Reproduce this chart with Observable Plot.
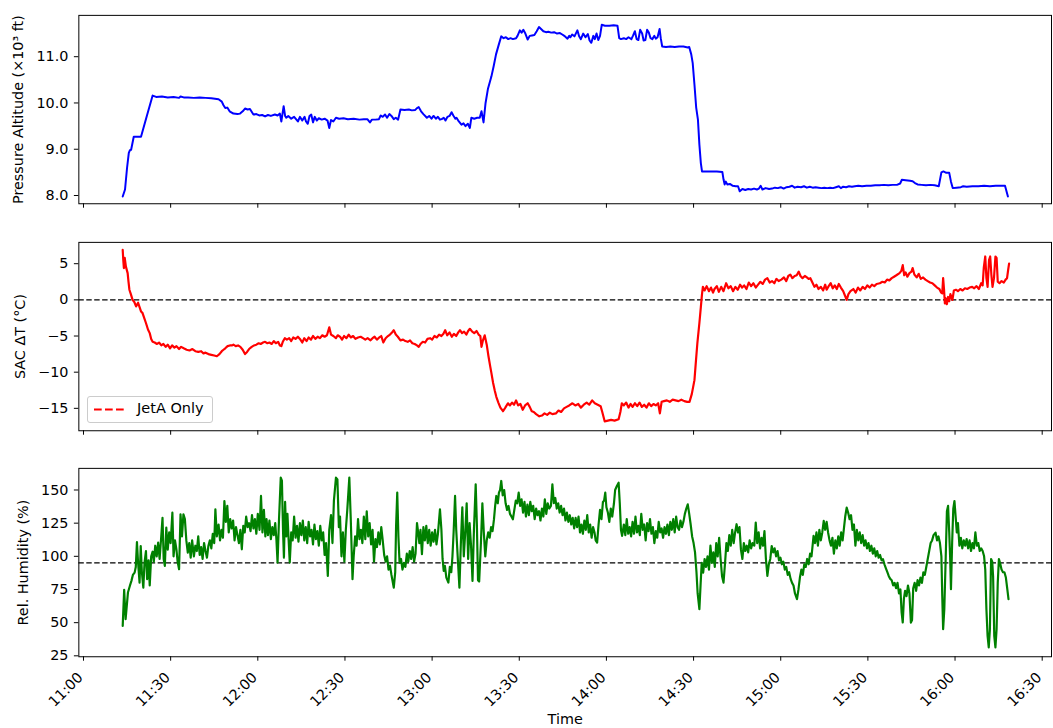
<!DOCTYPE html>
<html>
<head>
<meta charset="utf-8">
<script src="https://cdn.jsdelivr.net/npm/d3@7"></script>
<script src="https://cdn.jsdelivr.net/npm/@observablehq/plot@0.6"></script>
<style>
  html, body { margin: 0; padding: 0; background: #fff; overflow: hidden; width: 1053px; height: 728px; }
  #wrap { position: relative; width: 1053px; height: 728px; overflow: hidden; font-family: "DejaVu Sans", sans-serif; }
  .panel { position: absolute; left: 0; }
  #legend { position: absolute; left: 87px; top: 396px; width: 126px; height: 27px; box-sizing: border-box;
            border: 1px solid #cccccc; border-radius: 3px; background: rgba(255,255,255,0.8);
            font-family: "DejaVu Sans", sans-serif; font-size: 14.5px; color: #000; }
  #legend svg { position: absolute; left: 0; top: 0; }
  #legend span { position: absolute; left: 49px; top: 3px; white-space: nowrap; }
</style>
</head>
<body>
<div id="wrap"></div>
<script>
// ---------------- data (minutes after 11:00, value) ----------------
const xTickLabels = ["11:00","11:30","12:00","12:30","13:00","13:30","14:00","14:30","15:00","15:30","16:00","16:30"];
const altTicks = [8, 9, 10, 11];
const dtTicks = [-15, -10, -5, 0, 5];
const rhTicks = [25, 50, 75, 100, 125, 150];
const dtReference = [0];
const rhReference = [95];

const altitudeSeries = [[13.5,7.98],[14.3,8.13],[15.0,8.6],[15.6,8.92],[16.0,8.98],[16.4,8.99],[17.3,9.27],[19.8,9.27],[21.8,9.72],[23.8,10.16],[25.0,10.13],[27.0,10.14],[29.0,10.12],[31.0,10.13],[32.9,10.11],[33.4,10.14],[34.5,10.12],[36.0,10.12],[38.0,10.11],[40.0,10.12],[42.0,10.11],[44.0,10.10],[46.5,10.08],[47.6,10.03],[48.2,9.95],[48.8,9.89],[49.5,9.9],[50.3,9.82],[51.6,9.77],[53.0,9.76],[53.9,9.77],[54.8,9.82],[55.6,9.88],[56.5,9.86],[57.3,9.87],[58.0,9.80],[58.5,9.75],[59.5,9.76],[60.5,9.73],[61.5,9.74],[62.5,9.71],[63.5,9.74],[64.5,9.72],[65.9,9.75],[66.8,9.73],[67.6,9.77],[68.1,9.60],[68.9,9.93],[69.4,9.72],[69.8,9.68],[70.5,9.72],[71.5,9.66],[72.5,9.70],[73.8,9.60],[74.5,9.70],[75.3,9.62],[76.1,9.70],[76.6,9.60],[77.2,9.55],[77.8,9.72],[78.4,9.75],[79.0,9.58],[79.6,9.70],[80.3,9.62],[81.0,9.67],[82.0,9.64],[83.0,9.66],[84.0,9.62],[84.6,9.46],[85.2,9.63],[86.0,9.6],[86.9,9.68],[88.0,9.66],[89.5,9.67],[91.0,9.65],[93.0,9.66],[95.0,9.64],[96.5,9.65],[97.7,9.65],[98.6,9.58],[99.3,9.64],[100.5,9.64],[101.7,9.65],[102.3,9.73],[103.0,9.70],[103.8,9.75],[104.5,9.68],[105.3,9.76],[106.0,9.72],[106.8,9.65],[107.5,9.68],[108.3,9.64],[109.1,9.86],[110.5,9.85],[112.0,9.86],[113.0,9.84],[114.2,9.85],[114.8,9.89],[115.4,9.91],[116.2,9.82],[117.0,9.76],[118.2,9.68],[119.0,9.72],[119.8,9.66],[120.5,9.72],[121.3,9.66],[122.0,9.70],[122.7,9.64],[123.3,9.65],[124.0,9.68],[124.6,9.62],[125.3,9.70],[126.0,9.72],[126.7,9.80],[127.3,9.73],[128.0,9.66],[128.4,9.68],[129.2,9.60],[130.1,9.53],[130.8,9.56],[131.5,9.50],[132.3,9.55],[133.0,9.46],[133.5,9.68],[134.5,9.66],[135.5,9.68],[136.4,9.68],[137.0,9.82],[137.7,9.58],[138.4,10.0],[139.2,10.3],[140.4,10.57],[141.2,10.8],[142.0,11.05],[142.9,11.25],[143.8,11.44],[144.6,11.40],[145.4,11.42],[146.2,11.38],[147.0,11.40],[147.8,11.38],[148.9,11.40],[149.4,11.45],[150.2,11.57],[150.8,11.52],[151.4,11.58],[152.1,11.50],[152.9,11.37],[153.6,11.45],[154.4,11.46],[155.2,11.47],[156.0,11.55],[156.8,11.64],[157.5,11.60],[158.3,11.55],[159.2,11.53],[160.0,11.54],[161.0,11.52],[162.0,11.53],[163.0,11.50],[164.0,11.51],[164.8,11.48],[165.5,11.45],[166.6,11.39],[167.2,11.45],[167.6,11.42],[168.2,11.48],[169.0,11.44],[170.0,11.57],[170.6,11.44],[171.2,11.38],[172.0,11.50],[172.8,11.42],[173.6,11.49],[174.2,11.35],[174.8,11.30],[175.5,11.45],[176.0,11.38],[176.6,11.50],[177.2,11.36],[177.8,11.45],[178.4,11.69],[179.5,11.67],[181.0,11.67],[182.5,11.68],[183.8,11.67],[184.4,11.40],[185.0,11.38],[186.0,11.40],[186.8,11.38],[187.6,11.42],[188.6,11.38],[189.2,11.46],[189.8,11.55],[190.4,11.38],[191.0,11.36],[191.6,11.58],[192.3,11.50],[192.8,11.35],[193.4,11.36],[194.0,11.58],[194.6,11.52],[195.2,11.40],[195.8,11.38],[196.5,11.45],[197.0,11.39],[197.6,11.42],[198.3,11.60],[198.7,11.40],[199.2,11.22],[200.5,11.21],[202.0,11.22],[203.5,11.21],[205.0,11.22],[206.5,11.22],[208.0,11.20],[208.5,11.21],[209.2,11.05],[209.7,10.86],[210.3,10.4],[210.9,9.9],[211.5,9.64],[212.0,9.1],[212.5,8.7],[212.9,8.52],[214.5,8.52],[216.5,8.52],[218.0,8.52],[219.9,8.51],[220.3,8.35],[220.7,8.24],[221.1,8.30],[221.6,8.24],[222.5,8.25],[223.5,8.21],[224.5,8.20],[225.3,8.20],[225.9,8.09],[226.8,8.14],[227.8,8.12],[228.8,8.14],[229.8,8.13],[230.8,8.15],[231.8,8.13],[232.5,8.15],[233.1,8.21],[233.7,8.13],[234.8,8.16],[236.0,8.14],[237.0,8.15],[238.0,8.17],[239.0,8.16],[240.0,8.18],[241.0,8.15],[242.0,8.18],[243.0,8.19],[243.9,8.21],[244.8,8.17],[245.8,8.19],[247.0,8.18],[248.0,8.2],[249.0,8.17],[250.0,8.19],[251.0,8.17],[252.0,8.18],[253.0,8.17],[254.0,8.16],[255.0,8.17],[256.0,8.16],[257.0,8.17],[258.0,8.16],[259.0,8.18],[260.0,8.20],[260.7,8.16],[261.5,8.19],[262.5,8.18],[263.5,8.20],[264.5,8.19],[265.5,8.20],[266.7,8.21],[268.0,8.20],[269.5,8.21],[271.0,8.21],[272.5,8.22],[274.0,8.22],[275.5,8.23],[277.0,8.22],[278.5,8.23],[280.0,8.23],[281.1,8.26],[281.7,8.34],[283.0,8.33],[284.5,8.32],[285.4,8.31],[286.2,8.27],[287.1,8.24],[288.5,8.23],[290.0,8.22],[291.5,8.23],[293.0,8.22],[294.4,8.20],[295.3,8.50],[296.0,8.52],[297.0,8.49],[298.0,8.49],[298.6,8.30],[299.2,8.16],[300.5,8.17],[302.0,8.18],[302.8,8.20],[304.0,8.19],[306.0,8.20],[308.0,8.20],[310.0,8.21],[312.0,8.20],[314.0,8.21],[316.0,8.21],[317.2,8.21],[318.2,7.98]];

const sacDeltaTSeries = [[13.5,6.9],[13.7,5.5],[13.9,4.4],[14.2,5.8],[14.6,4.6],[15.2,3.7],[15.5,2.5],[15.8,1.4],[16.3,0.8],[16.9,0.0],[17.5,-0.3],[18.1,-0.9],[18.5,-0.6],[18.8,-0.4],[19.3,-1.0],[19.8,-1.6],[20.3,-1.8],[20.8,-2.4],[21.5,-3.2],[22.2,-4.1],[22.8,-4.6],[23.3,-5.4],[23.8,-5.8],[24.5,-5.9],[25.3,-6.1],[26.0,-5.9],[26.8,-6.3],[27.5,-6.1],[28.3,-6.5],[29.0,-6.2],[29.8,-6.7],[30.5,-6.3],[31.3,-6.6],[32.0,-6.4],[32.9,-6.8],[33.6,-6.5],[34.5,-6.7],[35.5,-6.9],[36.5,-7.0],[37.5,-6.8],[38.5,-7.1],[39.5,-7.2],[40.5,-7.1],[41.3,-7.4],[42.0,-7.3],[43.0,-7.5],[44.0,-7.6],[45.0,-7.7],[45.9,-7.8],[46.8,-7.5],[47.6,-7.1],[48.2,-6.9],[48.8,-6.7],[49.6,-6.4],[50.4,-6.3],[51.2,-6.3],[51.6,-6.2],[52.4,-6.4],[53.2,-6.3],[54.0,-6.5],[54.8,-6.9],[55.6,-7.5],[56.3,-7.2],[57.0,-6.8],[57.9,-6.5],[58.7,-6.3],[59.5,-6.2],[60.3,-6.0],[61.0,-6.1],[61.8,-5.9],[62.5,-5.8],[63.3,-6.0],[64.0,-5.9],[64.8,-6.1],[65.5,-5.7],[66.2,-6.0],[67.0,-5.8],[67.6,-6.3],[68.1,-6.4],[68.6,-5.8],[69.3,-5.3],[70.0,-5.5],[70.8,-5.3],[71.5,-5.7],[72.2,-5.2],[73.0,-5.4],[73.8,-5.1],[74.5,-5.4],[75.3,-5.9],[76.0,-5.3],[76.8,-5.7],[77.5,-5.2],[78.3,-5.5],[79.0,-5.0],[79.8,-5.4],[80.6,-5.1],[81.4,-5.3],[82.2,-4.9],[83.0,-5.1],[83.8,-4.9],[84.6,-3.8],[85.2,-4.8],[86.0,-5.0],[86.9,-5.3],[87.5,-4.9],[88.3,-5.1],[89.0,-5.5],[89.7,-5.0],[90.5,-5.3],[91.3,-4.8],[92.0,-5.2],[92.8,-5.0],[93.6,-5.4],[94.5,-5.2],[95.4,-5.1],[96.2,-5.3],[97.0,-5.5],[97.8,-5.3],[98.8,-5.6],[99.5,-5.3],[100.2,-5.1],[101.0,-5.5],[101.8,-5.2],[102.5,-5.0],[103.2,-5.9],[104.0,-5.3],[104.8,-5.0],[105.5,-4.8],[106.2,-4.5],[106.8,-4.2],[107.5,-4.8],[108.2,-5.1],[109.1,-5.6],[110.0,-5.5],[110.8,-5.7],[111.6,-5.8],[112.4,-5.6],[113.2,-6.0],[114.0,-6.1],[114.8,-6.3],[115.4,-6.5],[116.0,-6.1],[116.8,-5.8],[117.6,-5.9],[118.4,-5.4],[119.3,-5.3],[120.0,-5.5],[120.8,-5.0],[121.6,-5.2],[122.4,-4.8],[123.2,-5.0],[123.9,-4.7],[124.5,-4.2],[125.2,-4.9],[126.0,-4.5],[126.8,-5.1],[127.5,-4.7],[128.3,-5.0],[129.0,-4.5],[129.6,-4.2],[130.3,-4.6],[131.0,-4.4],[131.8,-4.8],[132.4,-4.3],[133.0,-4.0],[133.8,-4.4],[134.5,-4.6],[135.3,-4.3],[136.0,-4.8],[136.6,-5.0],[137.0,-6.5],[137.5,-5.6],[138.1,-4.9],[138.8,-6.2],[139.4,-7.8],[140.0,-9.2],[140.4,-10.1],[141.0,-11.5],[141.6,-12.6],[142.1,-13.4],[142.8,-14.2],[143.5,-14.9],[144.4,-15.4],[145.2,-14.9],[146.1,-14.3],[146.8,-14.6],[147.5,-14.2],[148.2,-14.5],[148.9,-13.9],[149.6,-14.6],[150.4,-14.4],[151.2,-15.2],[152.0,-14.6],[152.9,-14.3],[153.6,-14.8],[154.3,-15.4],[155.0,-15.5],[155.8,-15.8],[156.9,-16.1],[157.8,-16.0],[158.7,-15.7],[159.6,-15.9],[160.5,-15.6],[161.4,-15.8],[162.6,-15.7],[163.5,-15.3],[164.4,-15.5],[165.4,-15.0],[166.3,-14.8],[167.2,-14.6],[168.3,-14.3],[169.3,-14.6],[170.3,-14.4],[171.2,-14.9],[172.2,-14.5],[173.2,-14.2],[174.1,-14.5],[175.1,-13.9],[176.0,-14.3],[177.0,-14.5],[178.0,-14.7],[178.5,-15.4],[179.4,-16.8],[180.5,-16.7],[181.6,-16.6],[182.8,-16.7],[184.2,-16.5],[184.8,-15.5],[185.3,-14.3],[186.0,-14.6],[186.8,-14.2],[187.6,-14.9],[188.3,-14.4],[189.0,-14.8],[189.8,-14.3],[190.6,-14.7],[191.4,-14.2],[192.2,-14.8],[193.0,-14.5],[193.8,-14.9],[194.6,-14.3],[195.4,-14.7],[196.2,-14.4],[197.0,-14.6],[197.8,-14.3],[198.4,-15.7],[199.0,-14.1],[199.8,-14.0],[200.8,-13.9],[201.8,-14.1],[202.8,-13.8],[203.8,-13.9],[204.8,-14.0],[205.8,-13.8],[206.8,-14.0],[207.8,-14.1],[208.6,-14.1],[209.4,-13.0],[210.3,-11.1],[210.8,-8.5],[211.3,-6.0],[212.0,-3.2],[212.5,-1.0],[212.9,0.8],[213.2,1.8],[213.8,1.3],[214.5,1.9],[215.3,1.2],[216.0,1.7],[216.7,1.0],[217.2,1.5],[218.0,1.9],[218.7,1.1],[219.5,1.8],[220.3,1.2],[221.2,2.3],[222.0,1.6],[222.8,1.9],[223.6,1.2],[224.4,1.8],[225.2,1.4],[226.0,2.1],[226.7,1.7],[227.4,2.0],[228.2,1.5],[229.0,2.4],[229.8,1.9],[230.6,2.3],[231.4,1.7],[232.2,2.1],[233.0,2.5],[233.8,2.2],[234.6,2.8],[235.4,3.0],[236.2,2.4],[237.0,2.6],[237.8,2.3],[238.5,2.9],[239.3,2.6],[240.2,2.8],[241.1,3.1],[241.9,2.6],[242.6,3.3],[243.3,3.5],[244.0,3.0],[244.8,3.3],[245.5,3.4],[246.2,3.9],[246.8,3.3],[247.5,3.0],[248.3,3.3],[249.0,3.1],[249.6,2.9],[250.2,3.0],[250.9,2.4],[251.6,1.8],[252.3,2.1],[253.0,1.5],[253.8,1.8],[254.6,1.3],[255.3,2.1],[255.8,1.4],[256.5,1.9],[257.2,2.3],[257.9,1.6],[258.6,2.0],[259.3,1.5],[260.0,2.2],[260.7,1.7],[261.5,1.2],[262.1,0.6],[262.7,0.0],[263.3,0.8],[264.0,1.2],[265.0,1.5],[265.8,1.0],[266.6,1.7],[267.4,1.3],[268.2,1.8],[269.0,1.5],[269.8,2.0],[270.6,1.7],[271.4,2.1],[272.2,1.9],[273.0,2.2],[274.1,2.3],[275.0,2.5],[275.8,2.4],[276.6,2.8],[277.4,2.7],[278.2,3.0],[279.0,3.2],[279.8,3.4],[280.9,3.7],[281.5,4.0],[282.0,4.8],[282.5,3.4],[283.0,3.8],[283.6,3.2],[284.3,3.7],[285.0,3.9],[285.4,4.4],[286.0,3.5],[286.8,3.1],[287.5,3.6],[288.2,2.9],[289.0,3.1],[289.8,2.8],[290.6,2.6],[291.4,2.4],[292.2,2.3],[293.0,2.0],[293.8,1.7],[294.6,1.5],[295.2,1.0],[295.6,0.9],[295.9,3.0],[296.2,1.5],[296.5,-0.5],[296.8,0.2],[297.2,-0.6],[297.6,0.4],[298.0,-0.2],[298.4,0.8],[299.1,0.0],[299.6,1.3],[300.3,1.4],[301.0,1.2],[301.8,1.5],[302.6,1.3],[303.4,1.6],[304.2,1.5],[305.0,1.7],[305.9,1.8],[306.6,1.6],[307.4,1.9],[308.2,1.5],[309.0,2.3],[309.5,2.0],[309.9,4.5],[310.4,6.0],[310.8,3.0],[311.2,1.8],[311.7,5.5],[312.1,6.0],[312.5,3.5],[312.9,1.8],[313.4,3.0],[313.9,6.0],[314.3,5.8],[314.7,2.5],[315.3,2.3],[316.0,2.6],[316.8,2.4],[317.4,2.8],[317.9,3.0],[318.3,4.2],[318.6,5.0]];

const relHumiditySeries = [[13.5,47.6],[14.0,74.7],[14.5,52.6],[15.3,72.7],[16.0,78],[16.5,81.5],[17.0,86],[17.6,87.7],[18.0,92],[18.4,110.8],[18.8,95],[19.3,80.2],[19.7,107.8],[20.1,88],[20.6,76.4],[21.0,95],[21.5,104],[21.9,82.7],[22.4,97],[22.8,78],[23.3,100],[23.8,103.5],[24.2,96],[24.7,108],[25.2,100],[25.7,110.3],[26.2,98],[26.7,113],[27.2,129.1],[27.6,98],[28.0,92.8],[28.5,121.6],[29.0,105],[29.5,118],[30.0,110],[30.6,132.9],[31.0,100],[31.5,112],[32.0,105],[32.4,96],[32.9,90.3],[33.4,131.6],[33.9,115],[34.4,131.6],[34.9,128],[35.4,112],[35.9,102.8],[36.4,110],[36.9,99],[37.4,112],[38.0,100],[38.5,108],[39.0,104],[39.5,115],[40.0,101],[40.5,107],[41.0,98],[41.5,110],[42.0,104],[42.5,99],[43.0,108],[43.5,112],[44.0,106],[44.5,117],[45.0,110],[45.4,135.5],[45.9,115],[46.5,124],[47.0,112],[47.5,120],[48.0,114],[48.5,141.7],[49.0,126],[49.5,138],[50.0,118],[50.5,128],[51.0,121],[51.5,127],[52.0,112],[52.5,122],[53.0,116],[53.5,110],[54.0,120],[54.5,105.3],[55.0,123],[55.5,118],[56.0,130],[56.5,122],[57.0,125],[57.5,119],[58.0,131],[58.5,121],[59.0,128],[59.5,117],[60.0,132],[60.6,120],[61.1,145.5],[61.6,118],[62.1,135],[62.6,115],[63.0,128],[63.5,116],[64.0,127],[64.5,113],[65.0,122],[65.5,116],[66.0,125],[66.4,113],[66.8,95.3],[67.3,128],[67.9,159.3],[68.3,157],[68.7,118],[69.0,99],[69.4,141],[69.8,115],[70.2,132],[70.6,113],[71.0,95.3],[71.5,118],[72.0,112],[72.5,130],[73.0,114],[73.5,123],[74.0,111],[74.5,125],[75.0,116],[75.5,127],[76.0,112],[76.5,122],[77.0,110],[77.5,126],[78.0,115],[78.5,120],[79.0,109],[79.5,124],[80.0,113],[80.5,119],[81.0,108],[81.5,123],[82.0,112],[82.5,118],[83.0,101],[83.5,110],[84.1,85.2],[84.6,120],[85.2,131],[85.7,110],[86.2,142],[86.9,159.3],[87.4,158],[87.9,122],[88.3,130],[88.8,100],[89.3,118],[89.8,96],[90.3,120],[90.8,135],[91.5,159.3],[92.0,128],[92.6,82.7],[93.0,100],[93.5,115],[94.0,108],[94.5,128],[95.0,113],[95.5,120],[96.0,110],[96.5,130],[97.0,113],[97.5,134],[98.0,115],[98.5,125],[99.0,109],[99.5,120],[100.0,96],[100.5,113],[101.0,107],[101.5,118],[102.0,109],[102.5,122],[103.0,112],[103.5,101],[104.0,96],[104.5,100],[105.0,90],[105.5,93],[106.0,86],[106.8,76.4],[107.3,88],[107.6,123],[108.0,148],[108.4,115],[108.8,95],[109.3,98],[109.8,90],[110.3,95],[110.8,92],[111.3,102],[111.8,96],[112.3,104],[112.8,98],[113.3,107],[113.8,96],[114.3,102],[114.8,125],[115.2,118],[115.6,110],[116.0,120],[116.5,101.6],[117.0,122],[117.5,112],[118.0,123],[118.5,110],[119.0,120],[119.5,108],[120.0,118],[120.5,111],[121.0,120],[121.5,109],[122.0,117],[122.7,135.5],[123.2,120],[123.6,98],[124.0,89],[124.4,92.8],[124.9,84],[125.6,80.2],[126.1,92],[126.6,88],[127.0,100],[127.4,118],[127.9,145.5],[128.3,120],[128.8,100],[129.4,76.4],[129.9,110],[130.4,137],[130.9,100],[131.4,118],[131.9,140],[132.4,98],[132.9,125],[133.4,108],[133.9,81.5],[134.4,120],[135.0,154.3],[135.4,125],[135.8,82],[136.2,81],[136.8,110],[137.3,140],[137.8,118],[138.3,100],[138.8,112],[139.3,118],[139.8,114],[140.3,122],[140.8,119],[141.3,128],[141.7,138],[142.1,145.5],[142.6,140],[143.0,148],[143.4,150],[143.8,156.8],[144.3,146],[144.8,150],[145.3,140],[145.8,135],[146.3,138],[146.8,132],[147.3,130],[147.8,127.9],[148.3,135],[148.8,142],[149.3,140],[149.8,148],[150.3,138],[150.8,143],[151.3,133],[151.8,141],[152.3,130],[152.8,139],[153.3,131],[153.8,141],[154.3,134],[154.8,138],[155.3,128],[155.8,136],[156.3,131],[156.8,134],[157.3,127],[157.8,136],[158.3,130],[158.8,143],[159.3,132],[159.8,140],[160.3,136],[160.9,138],[161.4,154.3],[161.9,140],[162.4,144],[162.9,136],[163.4,140],[163.9,133],[164.4,138],[164.9,131],[165.4,136],[165.9,127],[166.4,133],[166.9,126],[167.4,131],[167.9,124],[168.4,129],[168.9,121],[169.4,129],[169.9,122],[170.4,130],[170.9,118],[171.4,124],[171.9,117],[172.4,127],[172.9,120],[173.4,131],[173.9,118],[174.4,124],[174.9,114],[175.4,122],[175.9,118],[176.3,112],[176.8,110.3],[177.3,124],[177.8,135],[178.3,128],[178.8,141],[179.2,142],[179.6,148],[180.0,137],[180.5,133],[181.0,126],[181.5,136],[182.0,130],[182.6,140],[183.0,150],[183.6,153],[184.2,155.5],[184.6,140],[185.0,120],[185.4,115.4],[186.0,124],[186.5,116],[187.0,128],[187.5,117],[188.0,122],[188.5,115],[189.0,126],[189.5,117],[190.0,130],[190.5,118],[191.0,123],[191.5,116],[192.0,132],[192.5,120],[193.0,124],[193.5,112],[194.0,125],[194.5,119],[195.0,128],[195.5,117],[196.0,122],[196.5,110],[197.0,119],[197.5,114],[198.0,126],[198.5,118],[199.0,121],[199.5,114],[200.0,122],[200.5,117],[201.0,124],[201.5,116],[202.0,126],[202.5,120],[203.0,128],[203.5,118],[204.0,130],[204.5,122],[205.0,120],[205.5,127],[206.0,122],[206.5,126],[207.0,132],[207.5,136],[208.0,139.2],[208.5,132],[209.0,124],[209.5,115],[210.0,110],[210.5,103],[211.0,88],[211.4,72],[212.0,60.2],[212.4,78],[212.8,95],[213.3,87.7],[213.8,98],[214.3,92],[214.8,100],[215.3,90],[215.8,108],[216.3,95],[216.8,103],[217.3,92],[217.8,110],[218.3,100],[218.8,114],[219.3,98],[219.8,85],[220.3,80.2],[220.8,94],[221.3,110],[221.8,104],[222.3,116],[222.8,108],[223.3,120],[223.8,110],[224.3,118],[224.8,124.2],[225.3,118],[225.8,122],[226.3,105],[226.8,98],[227.3,110],[227.8,104],[228.3,108],[228.8,103],[229.3,112],[229.8,106],[230.3,110],[230.9,108],[231.4,125.4],[231.9,110],[232.4,118],[232.9,106],[233.4,114],[233.9,108],[234.4,119],[234.9,98],[235.4,85.2],[235.9,94],[236.4,98],[236.9,107.8],[237.4,103],[237.9,106],[238.4,100],[238.9,104],[239.4,97],[239.9,99],[240.4,94],[240.9,96],[241.4,90],[241.9,92],[242.4,86],[242.9,88],[243.4,83],[243.9,80],[244.4,78],[244.9,72],[245.6,67.7],[246.1,75],[246.6,84],[247.1,90],[247.6,86],[248.1,94],[248.6,92],[249.1,98],[249.6,94],[250.1,102],[250.6,100],[251.3,115.4],[251.8,110],[252.3,118],[252.8,108],[253.3,120],[253.8,112],[254.3,118],[254.8,126.7],[255.3,120],[255.8,126],[256.3,118],[256.8,112],[257.3,108],[257.8,114],[258.3,102],[258.8,112],[259.3,106],[259.8,115],[260.3,108],[260.8,118],[261.3,112],[261.8,122],[262.2,130],[262.7,136.7],[263.2,133],[263.7,128],[264.2,131],[264.7,120],[265.2,124],[265.7,108],[266.2,120],[266.7,112],[267.2,118],[267.7,110],[268.2,116],[268.7,108],[269.2,112],[269.7,106],[270.2,110],[270.7,104],[271.2,108],[271.7,102],[272.2,106],[272.7,100],[273.2,104],[273.7,99],[274.2,101],[274.7,97],[275.2,97.8],[275.7,94],[276.2,91],[276.7,88],[277.2,85],[277.7,83],[278.2,82],[278.7,78],[279.2,80],[279.7,76],[280.2,80],[280.7,72],[281.2,75],[281.6,58],[282.0,50.1],[282.4,68],[282.8,74],[283.3,70],[283.8,78],[284.3,72],[284.8,50],[285.2,52],[285.6,76],[286.1,80],[286.6,74],[287.1,82],[287.6,78],[288.1,84],[288.6,80],[289.1,88],[289.6,86],[290.1,92],[290.6,98],[291.1,104],[291.6,110],[292.1,112],[292.6,116],[293.3,117.9],[293.8,112],[294.3,115],[294.8,110],[295.3,100],[295.6,70],[295.9,45.1],[296.3,60],[296.8,100],[297.2,134],[297.6,138],[298.0,118],[298.3,100],[298.6,75.2],[299.0,110],[299.4,136],[299.8,141.7],[300.2,130],[300.6,118],[301.0,125],[301.5,108],[302.0,114],[302.5,106],[303.0,112],[303.5,108],[304.0,113],[304.5,106],[305.0,112],[305.5,104],[306.0,110],[306.5,106],[307.0,118],[307.5,108],[308.0,110],[308.5,104],[309.0,106],[309.5,104],[310.0,100],[310.4,90],[310.8,60],[311.2,40],[311.6,31.3],[312.0,45],[312.4,98],[312.8,96],[313.1,85],[313.5,40],[313.9,31.3],[314.3,45],[314.7,80],[315.1,98],[315.5,95],[316.0,90],[316.5,88],[317.0,88],[317.5,84],[318.0,75],[318.4,67.7]];

// ---------------- helpers ----------------
const T0 = Date.UTC(2000, 0, 1, 11, 0, 0);
const toDate = m => new Date(T0 + m * 60000);
const parseHM = s => { const [h, m] = s.split(":").map(Number); return new Date(Date.UTC(2000, 0, 1, h, m)); };
const xTicks = xTickLabels.map(parseHM);
const xDomain = [toDate(-1.6), toDate(333.2)];
const asRows = series => series.map(([m, v]) => ({t: toDate(m), v}));

const FONT = "DejaVu Sans";
const FONT_SIZE = "14.5px";
const wrap = document.getElementById("wrap");

function panel({top, height, marginBottom, yDomain, yTicks, yFormat, yLabel, labelOffset, marks, bottomAxis}) {
  const xAxes = [Plot.axisX({ticks: xTicks, tickFormat: () => "", tickSize: 4.5, label: null})];
  if (bottomAxis) {
    // rotated tick labels only (tick marks drawn by the axis above)
    xAxes.push(Plot.axisX({ticks: xTicks, tickFormat: (d, i) => xTickLabels[i], tickSize: 0, tickPadding: 18.5,
                           tickRotate: -45, dx: -3, label: null}));
    xAxes.push(Plot.axisX({ticks: [], tickSize: 0, label: "Time", labelAnchor: "center", labelArrow: "none", labelOffset: 68}));
  }
  const chart = Plot.plot({
    width: 1062, height,
    marginLeft: 79, marginRight: 2, marginTop: 15, marginBottom,
    style: {fontFamily: FONT, fontSize: FONT_SIZE, color: "#000", background: "transparent", overflow: "visible"},
    x: {type: "utc", domain: xDomain},
    y: {domain: yDomain},
    marks: [
      ...marks,
      Plot.frame({stroke: "#000", strokeWidth: 1}),
      Plot.axisY({ticks: yTicks, tickFormat: yFormat, tickSize: 4.5, tickPadding: 6,
                  label: yLabel, labelAnchor: "center", labelArrow: "none", labelOffset}),
      ...xAxes
    ]
  });
  chart.classList.add("panel");
  chart.style.top = top + "px";
  wrap.appendChild(chart);
}

// Panel 1: pressure altitude
panel({
  top: 0, height: 226, marginBottom: 21,
  yDomain: [7.822, 11.893], yTicks: altTicks, yFormat: d3.format(".1f"),
  yLabel: "Pressure Altitude (×10³ ft)", labelOffset: 67,
  marks: [Plot.line(asRows(altitudeSeries), {x: "t", y: "v", stroke: "#0000ff", strokeWidth: 2})]
});

// Panel 2: SAC delta T
panel({
  top: 226.5, height: 226, marginBottom: 21,
  yDomain: [-18.1, 7.95], yTicks: dtTicks, yFormat: d3.format("d"),
  yLabel: "SAC ΔT (°C)", labelOffset: 65,
  marks: [
    Plot.ruleY(dtReference, {stroke: "#000", strokeWidth: 1.2, strokeDasharray: "5.5,2.5"}),
    Plot.line(asRows(sacDeltaTSeries), {x: "t", y: "v", stroke: "#ff0000", strokeWidth: 2.2})
  ]
});

// Panel 3: relative humidity
panel({
  top: 452.5, height: 275.5, marginBottom: 70.5,
  yDomain: [24.3, 166.3], yTicks: rhTicks, yFormat: d3.format("d"),
  yLabel: "Rel. Humidity (%)", labelOffset: 62,
  bottomAxis: true,
  marks: [
    Plot.ruleY(rhReference, {stroke: "#000", strokeWidth: 1.2, strokeDasharray: "5.5,2.5"}),
    Plot.line(asRows(relHumiditySeries), {x: "t", y: "v", stroke: "#008000", strokeWidth: 2.2})
  ]
});

// Legend for the SAC panel
const legend = document.createElement("div");
legend.id = "legend";
legend.innerHTML = '<svg width="126" height="27"><line x1="6" y1="12.5" x2="36" y2="12.5" stroke="#ff0000" stroke-width="2" stroke-dasharray="7.7,3.3"/></svg><span>JetA Only</span>';
wrap.appendChild(legend);
</script>
</body>
</html>
